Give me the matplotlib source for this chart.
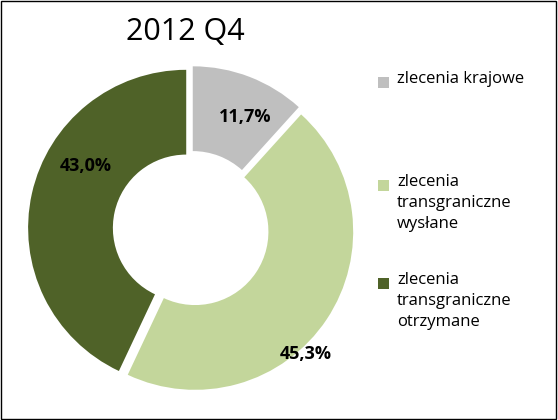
import matplotlib
matplotlib.use("Agg")
import matplotlib.pyplot as plt
from matplotlib.patches import Rectangle

labels = ["zlecenia krajowe", "zlecenia\ntransgraniczne\nwysłane", "zlecenia\ntransgraniczne\notrzymane"]
values = [11.7, 45.3, 43.0]
pct_text = ["11,7%", "45,3%", "43,0%"]
colors = ["#bfbfbf", "#c3d69b", "#4f6228"]
label_pos = [(245, 117), (306, 354), (86, 166)]  # pixel positions of percent labels

plt.rcParams['font.family'] = ['Open Sans', 'DejaVu Sans']
fig = plt.figure(figsize=(5.58, 4.2), dpi=100)
fig.patches.append(Rectangle((0.002, 0.002), 0.995, 0.995, transform=fig.transFigure,
                             fill=False, edgecolor="black", linewidth=1))
ax = fig.add_axes([28/558, 66/420 - 0.0, 326/558, 326/420])
ax.set_position([28/558, (420-392)/420, 326/558, 326/420])
wedges, _ = ax.pie(values, colors=colors, startangle=90, counterclock=False,
                   explode=[0.03, 0.03, 0.03], radius=0.97,
                   wedgeprops=dict(width=0.52, edgecolor="white", linewidth=0))
ax.set_xlim(-1, 1); ax.set_ylim(-1, 1)
ax.set_aspect("equal"); ax.axis("off")

for t, (x, y) in zip(pct_text, label_pos):
    fig.text(x/558, 1-y/420, t, ha="center", va="center",
             fontsize=13, fontweight="bold", color="black")

fig.text(185/558, 1-32/420, "2012 Q4", ha="center", va="center", fontsize=22)

ys = [82, 185, 283]
for y, lab, c in zip(ys, labels, colors):
    fig.patches.append(Rectangle((378/558, 1-(y+6)/420), 11/558, 11/420,
                                 transform=fig.transFigure, facecolor=c, edgecolor="none"))
    fig.text(397/558, 1-(y-11)/420, lab, ha="left", va="top", fontsize=12, linespacing=1.4)

fig.savefig("out.png", dpi=100)
